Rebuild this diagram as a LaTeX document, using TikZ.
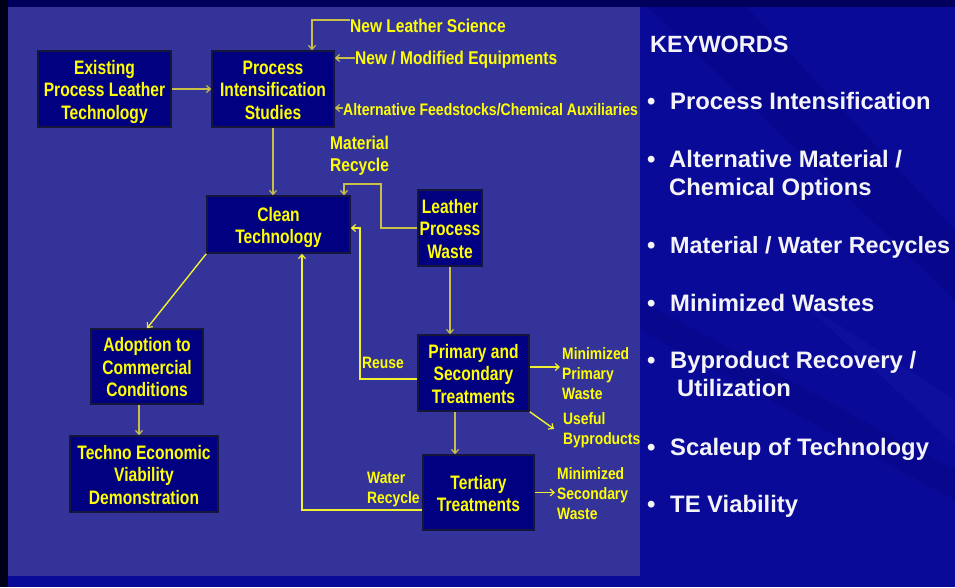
\documentclass[tikz,border=0pt]{standalone}
\usepackage{fontspec}
\setmainfont{Liberation Sans}
\newfontfamily\boxfont[FakeStretch=0.8]{Liberation Sans}
\newfontfamily\lblfont[FakeStretch=0.84]{Liberation Sans}
\usetikzlibrary{arrows.meta}
\newcommand\mytopstrut{\rule{0pt}{20pt}}
\newcommand\mybotstrut{\rule[-4.5pt]{0pt}{0pt}}
\definecolor{bgdark}{HTML}{0A0A98}
\definecolor{bgdeep}{HTML}{04047A}
\definecolor{bglight}{HTML}{2020B0}
\definecolor{topstrip}{HTML}{00005C}
\definecolor{panel}{HTML}{333399}
\definecolor{boxfill}{HTML}{000080}
\definecolor{boxline}{HTML}{16163A}
\definecolor{ytext}{HTML}{FFFF00}
\definecolor{lineA}{HTML}{C8C048}
\definecolor{lineB}{HTML}{F0F030}
\definecolor{kwtext}{HTML}{F4F4F8}
\tikzset{
 box/.style={draw=boxline, line width=1.5pt, fill=boxfill, text=ytext,
   font=\boxfont\bfseries\fontsize{19.5}{22.5}\selectfont, align=center, inner sep=0pt},
 lbl/.style={text=ytext, font=\lblfont\bfseries\fontsize{18.5}{22}\selectfont, align=left, inner sep=0pt},
 slbl/.style={text=ytext, font=\lblfont\bfseries\fontsize{16.5}{20}\selectfont, align=left, inner sep=0pt},
 altlbl/.style={text=ytext, font=\lblfont\bfseries\fontsize{16.7}{19}\selectfont, inner sep=0pt},
 conn/.style={draw=lineA, line width=1.4pt, -{Straight Barb[length=4pt,width=7pt,line width=1.2pt]}},
 connb/.style={conn, draw=lineB},
 kwhead/.style={text=kwtext, font=\bfseries\fontsize{23.5}{28}\selectfont, inner sep=0pt},
 kw/.style={text=kwtext, font=\bfseries\fontsize{23.8}{28}\selectfont, align=left, inner sep=0pt},
}
\begin{document}
\begin{tikzpicture}[x=1pt,y=-1pt]
\useasboundingbox (0,0) rectangle (955,587);
% background
\fill[bgdark] (0,0) rectangle (955,587);
\fill[bgdeep, opacity=0.35] (640,0) -- (740,0) -- (955,230) -- (955,300) -- cycle;
\fill[bgdeep, opacity=0.3] (640,300) -- (955,470) -- (955,500) -- (640,330) -- cycle;
\fill[bglight, opacity=0.25] (800,300) -- (955,400) -- (955,445) -- cycle;
\fill[topstrip] (0,0) rectangle (955,7);
\fill[black!90!blue] (0,0) rectangle (8,587);
\fill[panel] (8,7) rectangle (640,576);

% boxes
\node[box, minimum width=133pt, minimum height=76pt] (ex) at (104.5,89) {\mytopstrut Existing\\Process Leather\\Technology\mybotstrut};
\node[box, minimum width=122pt, minimum height=76pt] (pis) at (273,89) {\mytopstrut Process\\Intensification\\Studies\mybotstrut};
\node[box, minimum width=143pt, minimum height=57pt] (ct) at (278.5,224.5) {\mytopstrut Clean\\Technology\mybotstrut};
\node[box, minimum width=64pt, minimum height=76pt] (lpw) at (450,228) {\mytopstrut Leather\\Process\\Waste\mybotstrut};
\node[box, minimum width=111pt, minimum height=76pt] (pst) at (473.5,373) {\mytopstrut Primary and\\Secondary\\Treatments\mybotstrut};
\node[box, minimum width=111pt, minimum height=75pt] (tt) at (478.5,492.5) {\mytopstrut Tertiary\\Treatments\mybotstrut};
\node[box, minimum width=112pt, minimum height=75pt] (adopt) at (147,366.5) {\mytopstrut Adoption to\\Commercial\\Conditions\mybotstrut};
\node[box, minimum width=148pt, minimum height=76pt] (tev) at (144,474) {\mytopstrut Techno Economic\\Viability\\Demonstration\mybotstrut};

% labels
\node[lbl, anchor=base west] (nls) at (350,32) {New Leather Science};
\node[lbl, anchor=base west] (nme) at (355,64) {New / Modified Equipments};
\node[altlbl, anchor=base west] (alt) at (343,115) {Alternative Feedstocks/Chemical Auxiliaries};
\node[lbl, anchor=west] (mr) at (330,156) {Material\\Recycle};
\node[slbl, anchor=base west] (reuse) at (362,368) {Reuse};
\node[slbl, anchor=west] (wrl) at (367,489.5) {Water\\Recycle};
\node[slbl, anchor=west] (mpw) at (562,373.5) {Minimized\\Primary\\Waste};
\node[slbl, anchor=west] (ubp) at (563,430.5) {Useful\\Byproducts};
\node[slbl, anchor=west] (msw) at (557,494) {Minimized\\Secondary\\Waste};

% coordinates
\coordinate (nlsA) at (312,20);
\coordinate (mr1) at (381,184);
\coordinate (mr2) at (344,184);
\coordinate (ru1) at (360,379);
\coordinate (ru2) at (360,228);
\coordinate (wr1) at (302,510);
\coordinate (x139) at (139,0);
\coordinate (x455) at (455,0);
\coordinate (y367) at (0,367);
\coordinate (ubA) at (554,429);

% connectors
\draw[conn] (ex.east) -- (pis.west);
\draw[conn] (nls.west |- nlsA) -- (nlsA) -- (nlsA |- pis.north);
\draw[conn] (nme.west |- 0,58) -- (pis.east |- 0,58);
\draw[conn] (alt.west |- 0,108) -- (pis.east |- 0,108);
\draw[conn] (pis.south) -- (pis.south |- ct.north);
\draw[conn] (lpw.west) -| (mr1) -- (mr2) -- (mr2 |- ct.north);
\draw[conn] (lpw.south) -- (lpw.south |- pst.north);
\draw[connb] (pst.west |- ru1) -| (ru2) -- (ct.east |- ru2);
\draw[connb] (tt.west |- wr1) -- (wr1) -- (wr1 |- ct.south);
\draw[connb] (ct.south west) -- (adopt.north);
\draw[conn] (adopt.south -| x139) -- (tev.north -| x139);
\draw[conn] (pst.south -| x455) -- (tt.north -| x455);
\draw[connb] (pst.east |- y367) -- ([xshift=-2pt]mpw.west |- y367);
\draw[connb] (pst.south east) -- (ubA);
\draw[connb] (tt.east) -- ([xshift=-2pt]tt.east -| msw.west);

% keywords
\node[kwhead, anchor=west] (kwh) at (650,44) {KEYWORDS};
\node[kw, anchor=base west] (b1) at (647,109.5) {•};
\node[kw, anchor=base west] (k1) at (670,109.5) {Process Intensification};
\node[kw, anchor=base west] (b2) at (647,167.5) {•};
\node[kw, anchor=west] (k2) at (669,175.4) {Alternative Material /\\Chemical Options};
\node[kw, anchor=base west] (b3) at (647,253.5) {•};
\node[kw, anchor=base west, font=\bfseries\fontsize{23.4}{28}\selectfont] (k3) at (670,253.5) {Material / Water Recycles};
\node[kw, anchor=base west] (b4) at (647,311.5) {•};
\node[kw, anchor=base west] (k4) at (670,311.5) {Minimized Wastes};
\node[kw, anchor=base west] (b5) at (647,368.5) {•};
\node[kw, anchor=west] (k5) at (670,374) {Byproduct Recovery /\\\hspace*{7pt}Utilization};
\node[kw, anchor=base west] (b6) at (647,455.5) {•};
\node[kw, anchor=base west] (k6) at (670,455.5) {Scaleup of Technology};
\node[kw, anchor=base west] (b7) at (647,512.5) {•};
\node[kw, anchor=base west] (k7) at (670,512.5) {TE Viability};
\end{tikzpicture}
\end{document}
